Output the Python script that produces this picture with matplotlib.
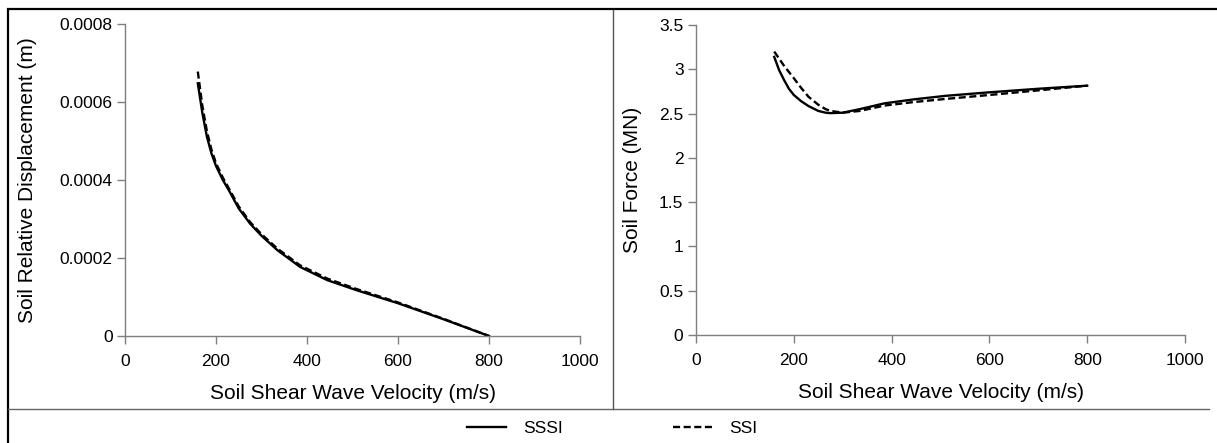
import matplotlib
matplotlib.use("Agg")
import matplotlib.pyplot as plt
from matplotlib.lines import Line2D
from matplotlib.patches import Rectangle

plt.rcParams['font.family'] = ['Liberation Sans', 'DejaVu Sans']

# Data
vs_disp = [160, 170, 180, 190, 200, 215, 230, 250, 275, 300, 335, 385, 445, 510, 600, 700, 800]
disp_sssi = [0.000648, 0.000572, 0.000511, 0.000468, 0.000436, 0.000400, 0.000370, 0.000327, 0.000288,
             0.000257, 0.000220, 0.000177, 0.000143, 0.000117, 0.000084, 0.000043, 0.0]
disp_ssi = [0.000678, 0.000590, 0.000525, 0.000478, 0.000443, 0.000406, 0.000375, 0.000332, 0.000292,
            0.000261, 0.000224, 0.000181, 0.000147, 0.000120, 0.000086, 0.000044, 0.0]

vs_force = [160, 170, 180, 190, 200, 215, 230, 250, 265, 275, 300, 335, 385, 445, 510, 600, 700, 800]
force_sssi = [3.14, 2.99, 2.88, 2.78, 2.71, 2.64, 2.585, 2.53, 2.51, 2.505, 2.51, 2.55, 2.615, 2.66,
              2.70, 2.74, 2.78, 2.815]
force_ssi = [3.20, 3.12, 3.04, 2.97, 2.90, 2.79, 2.69, 2.60, 2.55, 2.53, 2.51, 2.53, 2.59, 2.63,
             2.665, 2.71, 2.762, 2.815]

xlabel = "Soil Shear Wave Velocity (m/s)"
ylabel_left = "Soil Relative Displacement (m)"
ylabel_right = "Soil Force (MN)"
xticks = [0, 200, 400, 600, 800, 1000]
yticks_left = [0, 0.0002, 0.0004, 0.0006, 0.0008]
yticks_left_labels = ["0", "0.0002", "0.0004", "0.0006", "0.0008"]
yticks_right = [0, 0.5, 1, 1.5, 2, 2.5, 3, 3.5]
yticks_right_labels = ["0", "0.5", "1", "1.5", "2", "2.5", "3", "3.5"]

W, H = 1217, 443
fig = plt.figure(figsize=(W / 100, H / 100), dpi=100)

def px_axes(x0, x1, ytop, ybot):
    return fig.add_axes([x0 / W, (H - ybot) / H, (x1 - x0) / W, (ybot - ytop) / H])

axL = px_axes(125, 580, 24, 336)
axR = px_axes(696, 1185, 25, 335)

gray = '#7f7f7f'
for ax in (axL, axR):
    for s in ('top', 'right'):
        ax.spines[s].set_visible(False)
    for s in ('left', 'bottom'):
        ax.spines[s].set_color(gray)
        ax.spines[s].set_linewidth(1.0)
    ax.tick_params(direction='out', length=6, width=1, color=gray, labelsize=12.5, labelcolor='black')
    ax.tick_params(axis='x', pad=7)
    ax.tick_params(axis='y', pad=3)
    ax.set_xlim(0, 1000)
    ax.set_xticks(xticks)
    ax.set_xticklabels([str(t) for t in xticks])
    ax.set_xlabel(xlabel, fontsize=15, labelpad=11)

dash = (0, (3, 1.5))
axL.plot(vs_disp, disp_sssi, color='black', lw=1.7)
axL.plot(vs_disp, disp_ssi, color='black', lw=1.7, ls=dash)
axL.set_ylim(0, 0.0008)
axL.set_yticks(yticks_left)
axL.set_yticklabels(yticks_left_labels)
axL.set_ylabel(ylabel_left, fontsize=15, labelpad=16)

l1, = axR.plot(vs_force, force_sssi, color='black', lw=1.7, label='SSSI')
l2, = axR.plot(vs_force, force_ssi, color='black', lw=1.7, ls=dash, label='SSI')
axR.set_ylim(0, 3.5)
axR.set_yticks(yticks_right)
axR.set_yticklabels(yticks_right_labels)
axR.set_ylabel(ylabel_right, fontsize=15, labelpad=12)

# frame and separators
fig.add_artist(Rectangle((7.5 / W, -0.05), 1.2, (H - 9.5) / H + 0.05, transform=fig.transFigure,
                         fill=False, edgecolor='black', lw=1.6))
fig.add_artist(Line2D([8 / W, 1209 / W], [(H - 409) / H] * 2, transform=fig.transFigure, color='#666666', lw=1.0))
fig.add_artist(Line2D([613 / W] * 2, [(H - 409) / H, (H - 10) / H], transform=fig.transFigure, color='#555555', lw=1.0))

fig.legend([l1, l2], ['SSSI', 'SSI'], ncol=2, loc='center left', bbox_to_anchor=(467 / W, (H - 428) / H),
           frameon=False, fontsize=12.5, handlelength=2.25, handletextpad=1.0, columnspacing=6.3,
           borderpad=0, borderaxespad=0)

fig.savefig('out.png', dpi=100)
